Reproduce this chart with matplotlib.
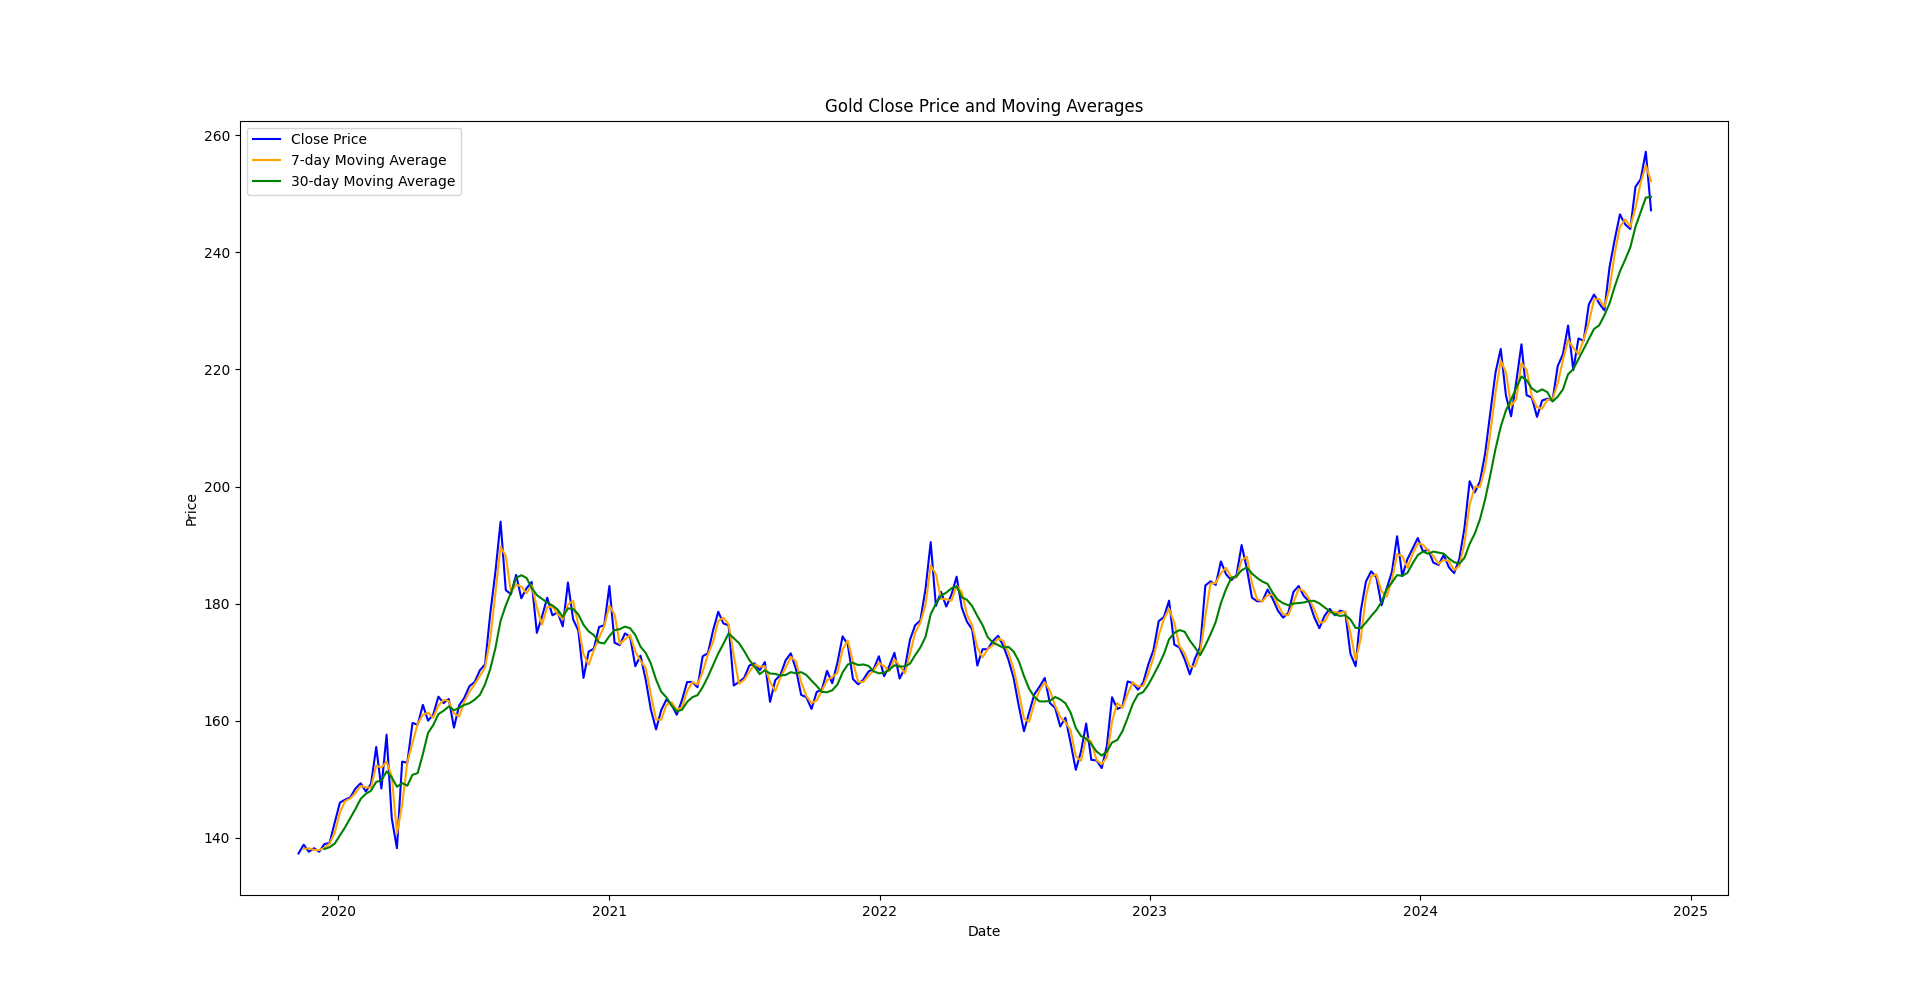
import matplotlib
matplotlib.use("Agg")
import matplotlib.pyplot as plt
import pandas as pd

# weekly (Friday) closing prices, Nov 2019 - Nov 2024
close_2019 = [137.3, 138.8, 137.6, 138.2, 137.6, 138.9, 139.1, 142.6]
close_2020 = [146.0, 146.5, 146.9, 148.4, 149.3,
              147.9, 149.2, 155.5, 148.4,
              157.6, 143.3, 138.2, 153.0,
              152.8, 159.6, 159.3, 162.7,
              160.0, 161.0, 164.1, 163.0, 163.7,
              158.8, 162.6, 163.9, 165.9,
              166.6, 168.6, 169.6, 178.2, 185.4,
              194.0, 182.3, 181.6, 184.9,
              180.9, 182.6, 183.7, 175.0,
              177.8, 181.0, 178.0, 178.5, 176.1,
              183.6, 177.3, 175.4, 167.3,
              171.8, 172.3, 176.0, 176.3]
close_2021 = [183.0, 173.3, 172.9, 174.9, 174.3,
              169.3, 171.1, 167.0, 161.9,
              158.5, 161.8, 163.6, 162.7,
              161.0, 163.5, 166.6, 166.6, 165.7,
              171.0, 171.5, 175.4, 178.6,
              176.6, 176.3, 166.0, 166.6,
              167.3, 169.4, 169.8, 168.6, 170.0,
              163.2, 166.9, 167.8, 170.3,
              171.5, 168.8, 164.4, 164.0,
              162.0, 164.9, 165.3, 168.5, 166.4,
              169.9, 174.4, 173.0, 167.1,
              166.2, 167.0, 168.4, 168.8, 171.0]
close_2022 = [167.6, 169.3, 171.6, 167.2,
              168.9, 173.8, 176.3, 177.1,
              182.5, 190.5, 179.6, 182.0,
              179.5, 181.5, 184.6, 179.3, 176.9,
              175.6, 169.4, 172.2, 172.2,
              173.6, 174.5, 172.8, 170.4,
              167.3, 162.5, 158.2, 161.4, 164.5,
              165.8, 167.3, 163.0, 162.2,
              159.0, 160.5, 156.2, 151.6, 154.7,
              159.5, 153.3, 153.2, 151.9,
              155.7, 164.0, 162.0, 162.4,
              166.7, 166.4, 165.3, 166.5, 169.6]
close_2023 = [172.1, 177.0, 177.7, 180.5,
              173.0, 172.5, 170.5, 167.9,
              170.6, 172.6, 183.1, 183.8, 183.2,
              187.2, 185.0, 184.0, 184.8,
              190.0, 186.0, 181.0, 180.4,
              180.4, 182.4, 180.8, 178.8, 177.6,
              178.4, 182.0, 183.0, 181.3,
              180.4, 177.7, 175.8, 177.9,
              179.1, 178.0, 178.8, 178.5, 171.4,
              169.3, 178.8, 183.8, 185.5,
              184.5, 179.7, 182.6, 185.4,
              191.5, 184.7, 187.6, 189.4, 191.2]
close_2024 = [188.9, 189.2, 187.0, 186.6,
              188.3, 186.2, 185.2, 187.6,
              192.9, 200.9, 199.0, 200.9, 205.7,
              212.7, 219.5, 223.5, 215.6,
              212.0, 217.9, 224.3, 215.6, 215.2,
              211.9, 214.7, 215.0, 214.7,
              220.6, 222.6, 227.5, 219.9,
              225.3, 224.9, 231.1, 232.8, 231.3,
              230.1, 237.5, 242.2, 246.5,
              244.8, 244.0, 251.2, 252.5,
              257.2, 247.2]

close = close_2019 + close_2020 + close_2021 + close_2022 + close_2023 + close_2024
dates = pd.date_range("2019-11-08", "2024-11-08", freq="W-FRI")

df = pd.DataFrame({"Close": close}, index=dates)
# weekly points: 2 weeks ~ 7 trading days, 6 weeks ~ 30 trading days
df["MA7"] = df["Close"].rolling(window=2).mean()
df["MA30"] = df["Close"].rolling(window=6).mean()

fig, ax = plt.subplots(figsize=(19.2, 10.06), dpi=100)
ax.plot(df.index, df["Close"], color="blue", label="Close Price")
ax.plot(df.index, df["MA7"], color="orange", label="7-day Moving Average")
ax.plot(df.index, df["MA30"], color="green", label="30-day Moving Average")

ax.set_xlim(pd.Timestamp("2019-08-21"), pd.Timestamp("2025-02-20"))
ax.set_ylim(130.15, 262.5)
ax.set_title("Gold Close Price and Moving Averages")
ax.set_xlabel("Date")
ax.set_ylabel("Price")
ax.legend(loc="upper left")

plt.savefig("out.png", dpi=100)
